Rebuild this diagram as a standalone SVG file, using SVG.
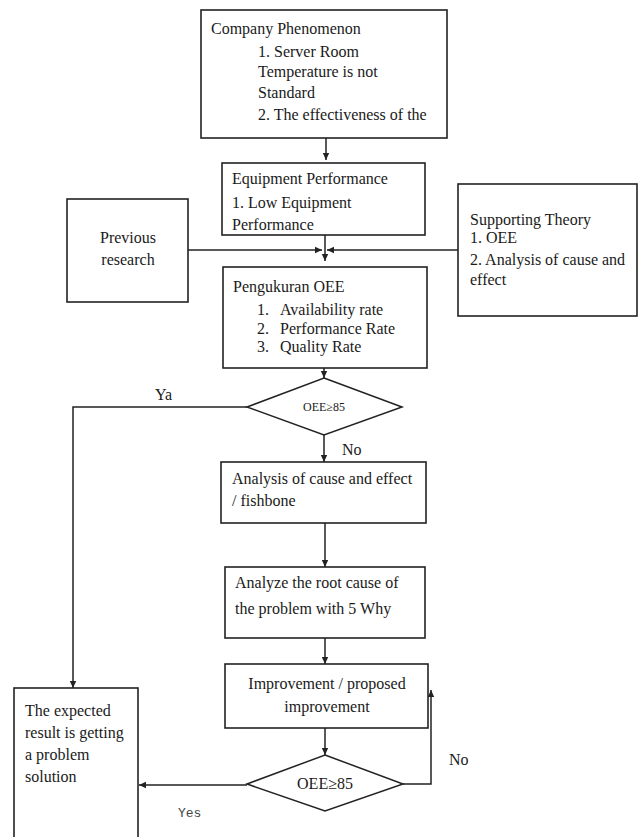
<svg xmlns="http://www.w3.org/2000/svg" width="642" height="837" viewBox="0 0 642 837">
<style>
text{font-family:"Liberation Serif","Times New Roman",serif;fill:#1a1a1a;font-size:16px}
.box{fill:#fff;stroke:#222;stroke-width:1.6}
.dia{fill:#fff;stroke:#222;stroke-width:1.5}
.ln{fill:none;stroke:#222;stroke-width:1.5}
.sm{font-size:12px}
.mono{font-family:"Liberation Mono","Courier New",monospace;font-size:13px;fill:#444}
</style>
<defs>
<marker id="ah" markerWidth="8" markerHeight="8" refX="7" refY="4" orient="auto" markerUnits="userSpaceOnUse">
<path d="M0,0.8 L7,4 L0,7.2 z" fill="#222"/>
</marker>
<clipPath id="clipEq"><rect x="222" y="163" width="203" height="67"/></clipPath>
</defs>
<rect width="642" height="837" fill="#fff"/>

<g id="connectors">
<line class="ln" x1="326" y1="138" x2="326" y2="160" marker-end="url(#ah)"/>
<line class="ln" x1="325" y1="235" x2="325" y2="261" marker-end="url(#ah)"/>
<line class="ln" x1="188" y1="250" x2="322" y2="250" marker-end="url(#ah)"/>
<line class="ln" x1="458" y1="250" x2="327" y2="250" marker-end="url(#ah)"/>
<line class="ln" x1="324" y1="356" x2="324" y2="378" marker-end="url(#ah)"/>
<polyline class="ln" points="247,407 73,407 73,688" marker-end="url(#ah)"/>
<line class="ln" x1="324" y1="435" x2="324" y2="462" marker-end="url(#ah)"/>
<line class="ln" x1="325" y1="523" x2="325" y2="567" marker-end="url(#ah)"/>
<line class="ln" x1="325" y1="638" x2="325" y2="664" marker-end="url(#ah)"/>
<line class="ln" x1="325" y1="728" x2="325" y2="755" marker-end="url(#ah)"/>
<polyline class="ln" points="403,784 431,784 431,690" marker-end="url(#ah)"/>
<line class="ln" x1="247" y1="785" x2="139" y2="785" marker-end="url(#ah)"/>
<text x="155" y="400" font-size="14">Ya</text>
<text x="342" y="455" font-size="14">No</text>
<text x="449" y="765">No</text>
<text class="mono" x="178" y="817">Yes</text>
</g>

<g id="company-phenomenon">
<rect class="box" x="201" y="10" width="246" height="128" stroke-width="2"/>
<text x="211" y="34">Company Phenomenon</text>
<text x="258" y="57">1. Server Room</text>
<text x="258" y="77">Temperature is not</text>
<text x="258" y="98">Standard</text>
<text x="258" y="120">2. The effectiveness of the</text>
</g>

<g id="equipment-performance">
<rect class="box" x="222" y="163" width="203" height="72"/>
<g clip-path="url(#clipEq)">
<text x="232" y="184">Equipment Performance</text>
<text x="232" y="208">1. Low Equipment</text>
<text x="232" y="230">Performance</text>
</g>
</g>

<g id="previous-research">
<rect class="box" x="67" y="199" width="121" height="103"/>
<text x="128" y="243" text-anchor="middle">Previous</text>
<text x="128" y="265" text-anchor="middle">research</text>
</g>

<g id="supporting-theory">
<rect class="box" x="458" y="184" width="179" height="132"/>
<text x="470" y="225">Supporting Theory</text>
<text x="470" y="243">1. OEE</text>
<text x="470" y="265">2. Analysis of cause and</text>
<text x="470" y="285">effect</text>
</g>

<g id="pengukuran-oee">
<rect class="box" x="223" y="267" width="204" height="101" stroke="#77775f" stroke-width="1.4"/>
<text x="233" y="292">Pengukuran OEE</text>
<text x="257" y="315">1.</text><text x="280" y="315">Availability rate</text>
<text x="257" y="334">2.</text><text x="280" y="334">Performance Rate</text>
<text x="257" y="352">3.</text><text x="280" y="352">Quality Rate</text>
</g>

<g id="decision-1">
<polygon class="dia" points="324,378 402,407 324,435 247,407"/>
<text class="sm" x="324" y="411" text-anchor="middle">OEE≥85</text>
</g>

<g id="analysis-fishbone">
<rect class="box" x="221" y="462" width="205" height="61"/>
<text x="232" y="484">Analysis of cause and effect</text>
<text x="232" y="506">/ fishbone</text>
</g>

<g id="root-cause">
<rect class="box" x="225" y="567" width="200" height="71"/>
<text x="235" y="588">Analyze the root cause of</text>
<text x="235" y="614">the problem with 5 Why</text>
</g>

<g id="improvement">
<rect class="box" x="225" y="664" width="203" height="64"/>
<text x="327" y="689" text-anchor="middle">Improvement / proposed</text>
<text x="327" y="712" text-anchor="middle">improvement</text>
</g>

<g id="decision-2">
<polygon class="dia" points="325,755 403,784 325,811 247,784"/>
<text x="325" y="789" text-anchor="middle" font-size="15">OEE≥85</text>
</g>

<g id="expected-result">
<rect class="box" x="14" y="688" width="124" height="170"/>
<text x="25" y="716">The expected</text>
<text x="25" y="738">result is getting</text>
<text x="25" y="760">a problem</text>
<text x="25" y="782">solution</text>
</g>
</svg>
